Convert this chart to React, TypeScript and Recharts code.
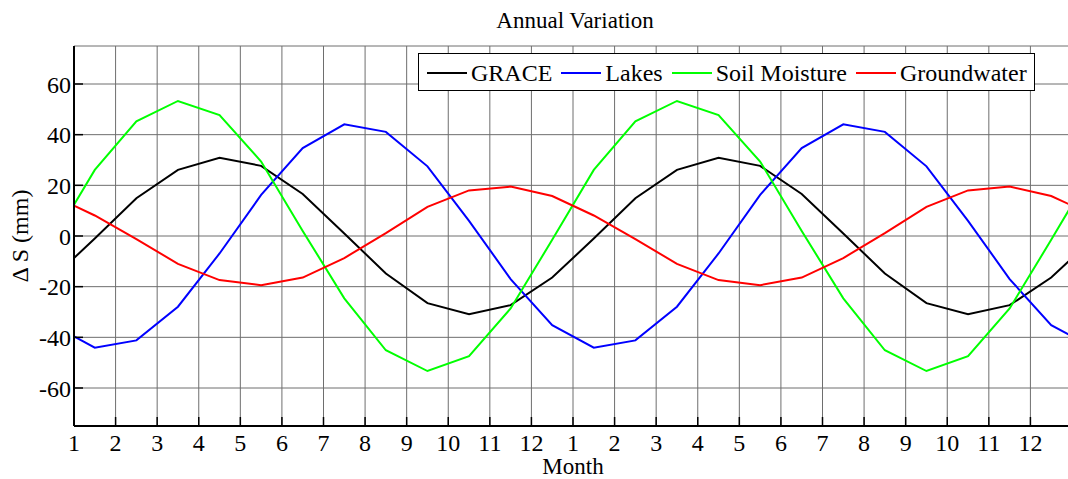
import { LineChart, Line, XAxis, YAxis, CartesianGrid, Legend } from "recharts"

// x positions: month 1 edge, then mid-month samples over two years, then the edge
const months = [
  1, 1.5, 2.5, 3.5, 4.5, 5.5, 6.5, 7.5, 8.5, 9.5, 10.5, 11.5, 12.5,
  13.5, 14.5, 15.5, 16.5, 17.5, 18.5, 19.5, 20.5, 21.5, 22.5, 23.5, 24.5, 25
]

const grace = [
  -8.7, -1, 14.9, 26.1, 30.9, 27.7, 16.6, 1, -14.8, -26.5, -30.9, -27.3, -16.4,
  -1, 14.9, 26.1, 30.9, 27.7, 16.6, 1, -14.8, -26.5, -30.9, -27.3, -16.4, -8.7
]

const lakes = [
  -39.6, -44.1, -41.2, -27.9, -6.9, 16.2, 34.7, 44.1, 41.1, 27.5, 6, -17, -35.2,
  -44.1, -41.2, -27.9, -6.9, 16.2, 34.7, 44.1, 41.1, 27.5, 6, -17, -35.2, -39.6
]

const soilMoisture = [
  12.3, 26.1, 45.3, 53.3, 47.7, 29.4, 2, -24.6, -45.1, -53.3, -47.4, -28.6, -1.5,
  26.1, 45.3, 53.3, 47.7, 29.4, 2, -24.6, -45.1, -53.3, -47.4, -28.6, -1.5, 12.3
]

const groundwater = [
  12, 8.1, -1.2, -11, -17.4, -19.4, -16.4, -8.7, 1.1, 11.5, 18, 19.5, 15.8,
  8.1, -1.2, -11, -17.4, -19.4, -16.4, -8.7, 1.1, 11.5, 18, 19.5, 15.8, 12
]

const seriesNames = ["GRACE", "Lakes", "Soil Moisture", "Groundwater"]

const monthTicks = [1, 2, 3, 4, 5, 6, 7, 8, 9, 10, 11, 12, 13, 14, 15, 16, 17, 18, 19, 20, 21, 22, 23, 24, 25]
const monthLabels = ["1", "2", "3", "4", "5", "6", "7", "8", "9", "10", "11", "12",
  "1", "2", "3", "4", "5", "6", "7", "8", "9", "10", "11", "12", ""]
const yTicks = [-60, -40, -20, 0, 20, 40, 60]

const data = months.map((m, i) => ({
  month: m,
  grace: grace[i],
  lakes: lakes[i],
  soil: soilMoisture[i],
  ground: groundwater[i]
}))

const font = "'Liberation Serif', 'Times New Roman', serif"

const LegendBox = (props: any) => {
  const items = [...(props.payload || [])].sort(
    (a: any, b: any) => seriesNames.indexOf(a.value) - seriesNames.indexOf(b.value)
  )
  return (
    <div
      style={{
        display: "flex",
        alignItems: "center",
        height: 34,
        paddingLeft: 8,
        paddingRight: 7,
        paddingTop: 2,
        border: "1px solid #000",
        background: "#fff",
        fontFamily: font,
        fontSize: 24,
        color: "#000",
        whiteSpace: "nowrap"
      }}
    >
      {items.map((entry: any, i: number) => (
        <div key={i} style={{ display: "flex", alignItems: "center", marginLeft: i === 0 ? 0 : 9 }}>
          <span style={{ display: "inline-block", width: 40, height: 2, background: entry.color, marginRight: 4 }} />
          <span>{entry.value}</span>
        </div>
      ))}
    </div>
  )
}

const NoLabel = () => <g />

const App = () => {
  return (
    <div
      style={{
        position: "fixed",
        top: 0,
        left: 0,
        width: 1068,
        height: 479,
        overflow: "hidden",
        background: "#fff",
        fontFamily: font
      }}
    >
      <style>{`.recharts-wrapper text { font-family: 'Liberation Serif', 'Times New Roman', serif; }`}</style>
      <div
        style={{
          position: "absolute",
          top: 9,
          left: 0,
          width: 1150,
          textAlign: "center",
          fontSize: 23,
          lineHeight: "23px",
          color: "#000",
          zIndex: 2
        }}
      >
        Annual Variation
      </div>
      <LineChart
        width={1080}
        height={479}
        data={data}
        margin={{ top: 46, right: 8, bottom: 0, left: 0 }}
        style={{ fontFamily: font }}
      >
        <CartesianGrid stroke="#6e6e6e" strokeWidth={1} />

        <XAxis
          dataKey="month"
          type="number"
          domain={[1, 25]}
          ticks={monthTicks}
          tickFormatter={(v: number) => monthLabels[monthTicks.indexOf(v)]}
          height={53}
          tickSize={-9}
          tickMargin={17}
          stroke="#000"
          axisLine={{ stroke: "#000", strokeWidth: 2 }}
          tickLine={{ stroke: "#000", strokeWidth: 1.5 }}
          tick={{ fill: "#000", fontSize: 24, fontFamily: font }}
          interval={0}
          label={{ value: "Month", position: "insideBottom", offset: 5, fill: "#000", fontSize: 23, fontFamily: font }}
        />
        <XAxis
          xAxisId="top"
          orientation="top"
          type="number"
          domain={[1, 25]}
          ticks={monthTicks}
          height={0}
          tickSize={-7}
          tick={NoLabel}
          interval={0}
          stroke="#000"
          axisLine={{ stroke: "#000", strokeWidth: 1.5 }}
          tickLine={{ stroke: "#000", strokeWidth: 1.5 }}
        />

        <YAxis
          type="number"
          domain={[-75, 75]}
          ticks={yTicks}
          width={74}
          tickSize={-9}
          tickMargin={12}
          interval={0}
          stroke="#000"
          axisLine={{ stroke: "#000", strokeWidth: 2 }}
          tickLine={{ stroke: "#000", strokeWidth: 1.5 }}
          tick={{ fill: "#000", fontSize: 24, fontFamily: font }}
          label={{
            value: "Δ S (mm)",
            angle: -90,
            position: "insideLeft",
            offset: 19,
            fill: "#000",
            fontSize: 24,
            fontFamily: font,
            style: { textAnchor: "middle" }
          }}
        />
        <YAxis
          yAxisId="right"
          orientation="right"
          type="number"
          domain={[-75, 75]}
          ticks={yTicks}
          width={0}
          tickSize={-9}
          tick={NoLabel}
          interval={0}
          stroke="#000"
          tickLine={{ stroke: "#000", strokeWidth: 1.5 }}
        />

        <Legend
          layout="horizontal"
          verticalAlign="middle"
          align="center"
          content={<LegendBox />}
          wrapperStyle={{ left: 418, top: 53, width: "auto", height: "auto" }}
        />

        <Line type="linear" dataKey="grace" name="GRACE" stroke="#000000" strokeWidth={2} dot={false} isAnimationActive={false} />
        <Line type="linear" dataKey="lakes" name="Lakes" stroke="#0000ff" strokeWidth={2} dot={false} isAnimationActive={false} />
        <Line type="linear" dataKey="soil" name="Soil Moisture" stroke="#00ff00" strokeWidth={2} dot={false} isAnimationActive={false} />
        <Line type="linear" dataKey="ground" name="Groundwater" stroke="#ff0000" strokeWidth={2} dot={false} isAnimationActive={false} />
      </LineChart>
    </div>
  )
}

export default App
